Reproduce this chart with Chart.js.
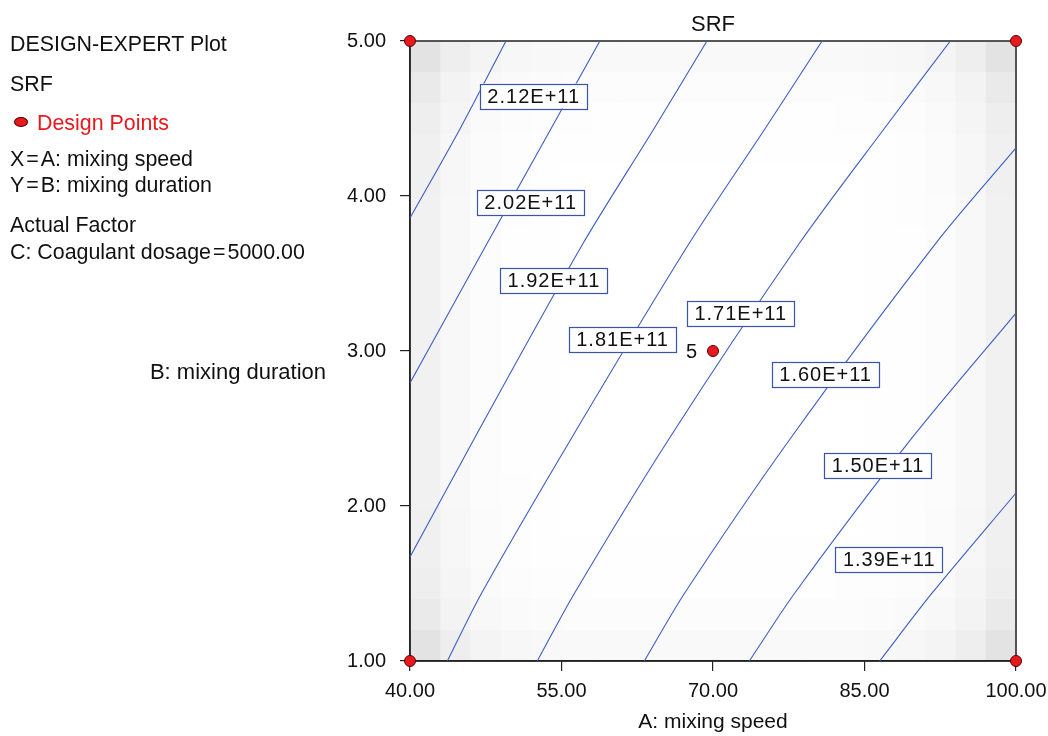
<!DOCTYPE html>
<html><head><meta charset="utf-8">
<script src="https://cdn.jsdelivr.net/npm/chart.js@4.4.1/dist/chart.umd.min.js"></script>
<style>
html,body{margin:0;padding:0;background:#fff;}
#wrap{position:relative;width:1048px;height:736px;font-family:"Liberation Sans",Arial,sans-serif;color:#111;overflow:hidden;}
canvas{position:absolute;left:0;top:0;}
.t{position:absolute;left:10px;font-size:21.4px;line-height:24px;white-space:nowrap;}
.eq{margin:0 2px;}
.dot{display:inline-block;position:absolute;left:14px;top:117px;width:12px;height:8px;border-radius:50%;background:#e8191e;border:1px solid #5a0000;}
</style></head><body>
<div id="wrap">
<canvas id="c" width="1048" height="736"></canvas>
<div class="t" style="top:32px">DESIGN-EXPERT Plot</div>
<div class="t" style="top:72px">SRF</div>
<span class="dot"></span>
<div class="t" style="top:111px;left:37px;color:#e8191e">Design Points</div>
<div class="t" style="top:147px">X<span class="eq">=</span>A: mixing speed</div>
<div class="t" style="top:173px">Y<span class="eq">=</span>B: mixing duration</div>
<div class="t" style="top:213px">Actual Factor</div>
<div class="t" style="top:240px">C: Coagulant dosage<span class="eq">=</span>5000.00</div>
<div class="t" style="top:360px;left:auto;right:722px;font-size:22px;">B: mixing duration</div>
</div>
<script>
// ---- data ----
const chartTitle = 'SRF';
const xAxisTitle = 'A: mixing speed';
const xTickValues = [40, 55, 70, 85, 100];
const yTickValues = [1, 2, 3, 4, 5];

// contour lines: [A, B] pairs
const contour212 = [[40, 3.858], [45.0, 4.439], [49.5, 5]];
const contour202 = [[40, 2.794], [47.6, 3.690], [54.0, 4.439], [58.8, 5]];
const contour192 = [[40, 1.671], [46.4, 2.439], [57.1, 3.690], [64.2, 4.439], [69.4, 5]];
const contour181 = [[43.7, 1], [47.1, 1.439], [56.0, 2.439], [67.6, 3.690], [75.2, 4.439], [80.8, 5]];
const contour171 = [[52.6, 1], [56.3, 1.439], [65.7, 2.439], [78.5, 3.690], [87.0, 4.439], [93.5, 5]];
const contour160 = [[63.2, 1], [67.2, 1.439], [77.7, 2.439], [92.0, 3.690], [100, 4.31]];
const contour150 = [[73.6, 1], [78.1, 1.439], [89.7, 2.439], [100, 3.245]];
const contour139 = [[86.5, 1], [91.7, 1.439], [100, 2.084]];
const contourLines = [contour212, contour202, contour192, contour181, contour171, contour160, contour150, contour139];

const contourLabels = ['2.12E+11', '2.02E+11', '1.92E+11', '1.81E+11', '1.71E+11', '1.60E+11', '1.50E+11', '1.39E+11'];
const labelA = [52.2, 51.9, 54.2, 61.0, 72.7, 81.1, 86.3, 87.4];
const labelB = [4.645, 3.958, 3.455, 3.074, 3.239, 2.848, 2.261, 1.655];

const designA = [40, 100, 40, 100, 70];
const designB = [1, 1, 5, 5, 3];
const designCount = [1, 1, 1, 1, 5];

// ---- chart ----
const FONT = "'Liberation Sans', Arial, sans-serif";
Chart.defaults.font.family = FONT;
Chart.defaults.color = '#111';

const lineColor = '#3d5ec2';
const datasets = contourLines.map((pts, i) => ({
  type: 'line',
  label: contourLabels[i],
  data: pts.map(p => ({x: p[0], y: p[1]})),
  borderColor: lineColor,
  borderWidth: 1.1,
  pointRadius: 0,
  fill: false,
  tension: 0.3,
  order: 2
}));
datasets.push({
  type: 'scatter',
  label: 'Design Points',
  data: designA.map((a, i) => ({x: a, y: designB[i]})),
  backgroundColor: '#e8191e',
  borderColor: '#5a0000',
  borderWidth: 1,
  pointRadius: 5.5,
  clip: false,
  order: 0
});

const plotPlugin = {
  id: 'plotExtras',
  beforeDraw(chart) {
    const {ctx, chartArea: a} = chart;
    const n = 20;
    const w = (a.right - a.left) / n, h = (a.bottom - a.top) / n;
    ctx.save();
    for (let i = 0; i < n; i++) {
      for (let j = 0; j < n; j++) {
        const u = Math.pow((i + 0.5) / (n / 2) - 1, 6);
        const v = Math.pow((j + 0.5) / (n / 2) - 1, 6);
        const d = 19 * u + 8 * v + 16 * u * v;
        const g = Math.round(255 - d);
        ctx.fillStyle = `rgb(${g},${g},${Math.min(255, g + 1)})`;
        ctx.fillRect(a.left + i * w, a.top + j * h, w + 0.6, h + 0.6);
      }
    }
    // title
    ctx.fillStyle = '#111';
    ctx.font = `22px ${FONT}`;
    ctx.textAlign = 'center';
    ctx.textBaseline = 'middle';
    ctx.fillText(chartTitle, (a.left + a.right) / 2, 25);
    ctx.restore();
  },
  beforeDatasetsDraw(chart) {
    const {ctx, chartArea: a} = chart;
    ctx.save();
    ctx.strokeStyle = '#222';
    ctx.lineWidth = 1.5;
    ctx.strokeRect(a.left, a.top, a.right - a.left, a.bottom - a.top);
    ctx.restore();
  },
  afterDatasetsDraw(chart) {
    const {ctx, scales: {x, y}} = chart;
    ctx.save();
    ctx.font = `20px ${FONT}`;
    try { ctx.letterSpacing = '1px'; } catch (e) {}
    ctx.textBaseline = 'middle';
    ctx.textAlign = 'center';
    contourLabels.forEach((txt, i) => {
      const px = x.getPixelForValue(labelA[i]);
      const py = y.getPixelForValue(labelB[i]);
      const tw = ctx.measureText(txt).width;
      const bw = tw + 14, bh = 25;
      ctx.fillStyle = '#fff';
      ctx.fillRect(px - bw / 2, py - bh / 2, bw, bh);
      ctx.strokeStyle = '#3a55a8';
      ctx.lineWidth = 1.2;
      ctx.strokeRect(Math.round(px - bw / 2) + 0.5, Math.round(py - bh / 2) + 0.5, Math.round(bw), bh);
      ctx.fillStyle = '#111';
      ctx.fillText(txt, px + 0.5, py + 1);
    });
    try { ctx.letterSpacing = '0px'; } catch (e) {}
    ctx.textAlign = 'right';
    designCount.forEach((c, i) => {
      if (c > 1) {
        ctx.fillText(String(c), x.getPixelForValue(designA[i]) - 16, y.getPixelForValue(designB[i]) + 1);
      }
    });
    ctx.restore();
  }
};

new Chart(document.getElementById('c'), {
  data: {datasets},
  options: {
    responsive: false,
    animation: false,
    events: [],
    layout: {padding: {top: 41, right: 32, left: 0, bottom: 0}},
    plugins: {legend: {display: false}, tooltip: {enabled: false}, title: {display: false}},
    scales: {
      x: {
        type: 'linear', position: 'bottom', min: 40, max: 100,
        afterBuildTicks: s => { s.ticks = xTickValues.map(v => ({value: v})); },
        afterFit: s => { s.height = 75; s.paddingLeft = 0; s.paddingRight = 0; },
        grid: {drawOnChartArea: false, drawTicks: true, tickLength: 10, color: '#222', lineWidth: 1.2},
        border: {display: true, color: '#222', width: 1.5},
        ticks: {font: {size: 20}, color: '#111', padding: 8, maxRotation: 0, callback: v => Number(v).toFixed(2)},
        title: {display: true, text: xAxisTitle, font: {size: 21}, color: '#111', padding: {top: 0, bottom: 1}}
      },
      y: {
        type: 'linear', position: 'left', min: 1, max: 5,
        afterBuildTicks: s => { s.ticks = yTickValues.map(v => ({value: v})); },
        afterFit: s => { s.width = 410; s.paddingTop = 0; s.paddingBottom = 0; },
        grid: {drawOnChartArea: false, drawTicks: true, tickLength: 10, color: '#222', lineWidth: 1.2},
        border: {display: true, color: '#222', width: 1.5},
        ticks: {font: {size: 20}, color: '#111', padding: 14, callback: v => Number(v).toFixed(2)}
      }
    }
  },
  plugins: [plotPlugin]
});
</script>
</body></html>
